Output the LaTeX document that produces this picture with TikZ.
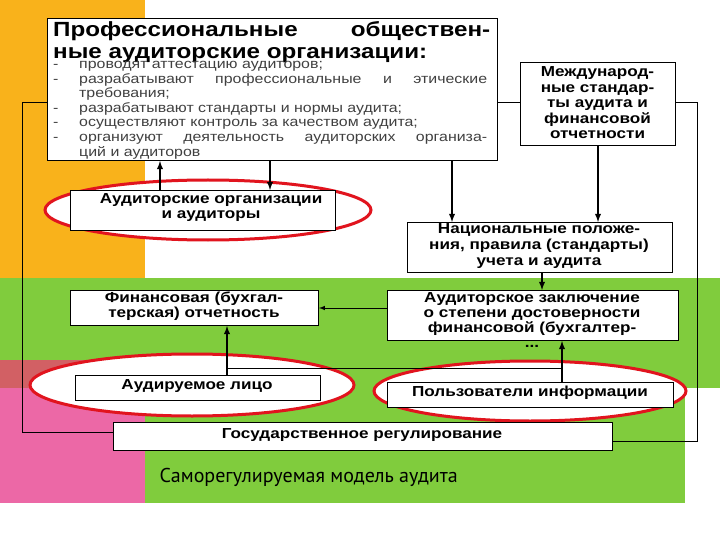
\documentclass[tikz,border=0pt]{standalone}
\usepackage{fontspec}
\setmainfont[FakeStretch=1.18]{Liberation Sans}
\newfontfamily\capfont{PT Sans}
\begin{document}
\begin{tikzpicture}[x=1pt,y=-1pt,
  box/.style={draw=black,fill=white,line width=1pt,inner sep=2pt,align=center},
  bt/.style={font=\bfseries\fontsize{14.5}{15}\selectfont,align=center},
  ell/.style={draw={rgb,255:red,225;green,20;blue,30},line width=3pt,fill=white},
  arr/.style={-latex,line width=1.8pt},
  thin/.style={line width=0.8pt}]
\definecolor{org}{RGB}{249,178,27}
\definecolor{grn}{RGB}{128,204,61}
\definecolor{pnk}{RGB}{236,104,166}
\definecolor{rdd}{RGB}{210,96,100}
\useasboundingbox (0,0) rectangle (720,540);
\fill[white] (0,0) rectangle (720,540);
\fill[org] (0,0) rectangle (145,278);
\fill[grn] (0,278) rectangle (720,388);
\fill[grn] (145,388) rectangle (685,503);
\fill[pnk] (0,388) rectangle (145,503);
\fill[rdd] (0,360) rectangle (145,388);
% ellipses
\draw[ell] (208,210) ellipse [x radius=163, y radius=30];
\draw[ell] (192,385) ellipse [x radius=162, y radius=31];
\draw[ell] (530,391) ellipse [x radius=156, y radius=30];
% boxes
\node[draw,fill=white,line width=1pt,minimum width=450,minimum height=142,anchor=north west,inner sep=0] (top) at (47,18) {};
\node[anchor=north west,align=left,inner sep=0,font=\bfseries\fontsize{20.5}{22}\selectfont] (ttl) at (53,21)
 {\makebox[437pt][s]{Профессиональные\hfill обществен-}\\ные аудиторские организации:};
\node[anchor=north west,align=left,inner sep=0,text={black!75},font=\fontsize{13.5}{14.6}\selectfont] (lst) at (53,58)
 {\begin{tabular}{@{}p{26pt}@{}l@{}}
 - & проводят аттестацию аудиторов;\\
 - & \makebox[408pt][s]{разрабатывают\hfill профессиональные\hfill и\hfill этические}\\
   & требования;\\
 - & разрабатывают стандарты и нормы аудита;\\
 - & осуществляют контроль за качеством аудита;\\
 - & \makebox[408pt][s]{организуют\hfill деятельность\hfill аудиторских\hfill организа-}\\
   & ций и аудиторов
 \end{tabular}};
\node[box,minimum width=155,minimum height=83,anchor=north west] (intl) at (520,62) {};
\node[bt,font=\bfseries\fontsize{14.5}{15.5}\selectfont] (intlt) at (597.5,103) {Международ-\\ные стандар-\\ты аудита и\\финансовой\\отчетности};
\node[box,minimum width=265,minimum height=40,anchor=north west] (aud) at (70,190) {};
\node[bt] at (211,208) {Аудиторские организации\\и аудиторы};
\node[box,minimum width=265,minimum height=50,anchor=north west] (nat) at (407,222) {};
\node[bt,font=\bfseries\fontsize{14.5}{16}\selectfont] at (539,246) {Национальные положе-\\ния, правила (стандарты)\\учета и аудита};
\node[box,minimum width=248,minimum height=35,anchor=north west] (fin) at (70,290) {};
\node[bt] at (194,306) {Финансовая (бухгал-\\терская) отчетность};
\node[box,minimum width=291,minimum height=50,anchor=north west] (conc) at (387,290) {};
\node[bt] at (532,320) {Аудиторское заключение\\о степени достоверности\\финансовой (бухгалтер-\\...};
\node[box,minimum width=245,minimum height=25,anchor=north west] (ent) at (75,375) {};
\node[bt] at (197,386) {Аудируемое лицо};
\node[box,minimum width=286,minimum height=25,anchor=north west] (usr) at (387,382) {};
\node[bt] at (530,393) {Пользователи информации};
\node[box,minimum width=499,minimum height=28,anchor=north west] (gov) at (113,422) {};
\node[bt] at (362,435) {Государственное регулирование};
\node[font=\capfont\fontsize{20}{22}\selectfont,anchor=west] (cap) at (156,477) {Саморегулируемая модель аудита};
% connectors
\draw[thin] (top.west |- 0,102) -- (22,102) -- (22,432) -- (gov.west |- 0,432);
\draw[thin] (intl.east |- 0,102) -- (697,102) -- (697,441) -- (gov.east |- 0,441);
\draw[thin] (top.east |- 0,102) -- (intl.west |- 0,102);
\draw[arr] (aud.north -| 160,0) -- (top.south -| 160,0);
\draw[arr] (top.south -| 270,0) -- (aud.north -| 270,0);
\draw[arr] (top.south -| 452,0) -- (nat.north -| 452,0);
\draw[arr] (intl.south -| 598,0) -- (nat.north -| 598,0);
\draw[arr] (nat.south -| 542,0) -- (conc.north -| 542,0);
\draw[-latex,line width=1pt] (conc.west |- 0,308) -- (fin.east |- 0,308);
\draw[arr] (ent.north -| 227,0) -- (fin.south -| 227,0);
\draw[thin] (227,368) -- (562,368);
\draw[arr] (usr.north -| 562,0) -- (conc.south -| 562,0);
\end{tikzpicture}
\end{document}
